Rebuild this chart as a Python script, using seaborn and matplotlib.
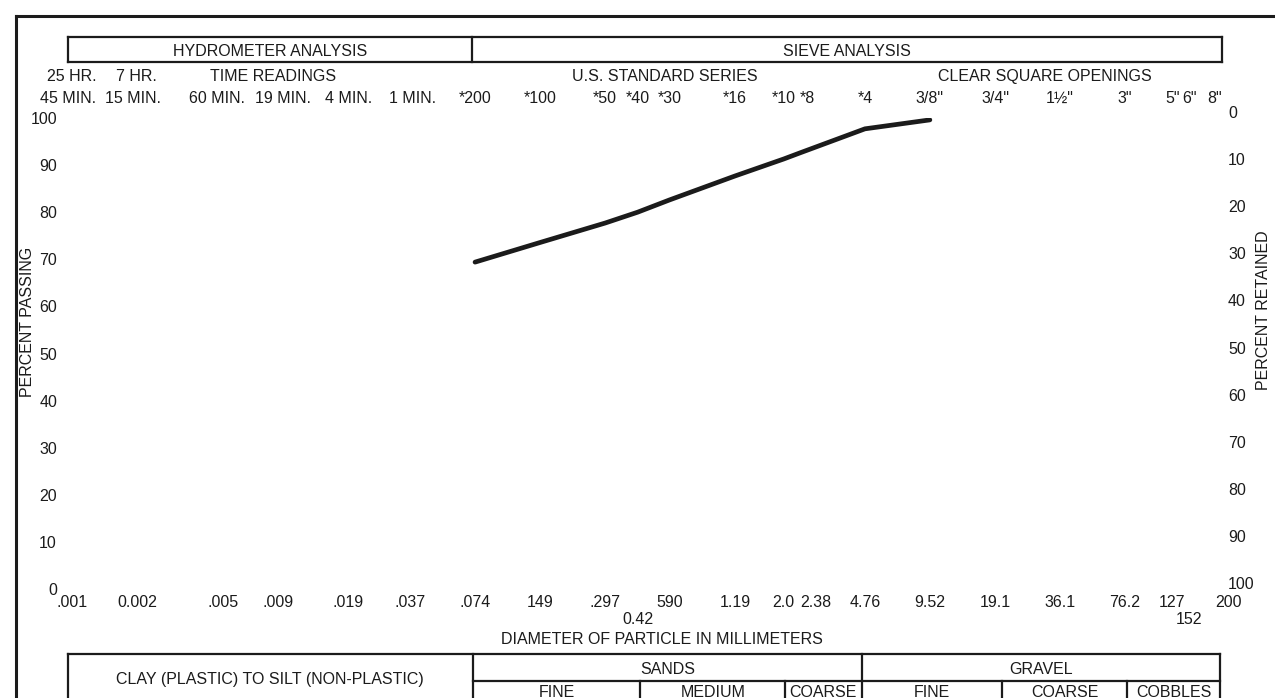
import matplotlib
matplotlib.use("Agg")
import matplotlib.pyplot as plt
from matplotlib import transforms, ticker
from matplotlib.lines import Line2D
import pandas as pd
import seaborn as sns

# ---- gradation data ----------------------------------------------------
sieve_mm = [0.074, 0.149, 0.297, 0.42, 0.59, 1.19, 2.0, 2.38, 4.76, 9.52]
percent_passing = [69.4, 73.6, 77.7, 80.0, 82.6, 87.7, 91.3, 92.6, 97.7, 99.6]

# ---- axis annotations --------------------------------------------------
diameter_ticks = [0.001, 0.002, 0.005, 0.009, 0.019, 0.037, 0.074, 0.149,
                  0.297, 0.59, 1.19, 2.0, 2.38, 4.76, 9.52, 19.1, 38.1,
                  76.2, 127, 200]
diameter_labels = [".001", "0.002", ".005", ".009", ".019", ".037", ".074",
                   "149", ".297", "590", "1.19", "2.0", "2.38", "4.76",
                   "9.52", "19.1", "36.1", "76.2", "127", "200"]
low_diameter_ticks = [0.42, 152]
low_diameter_labels = ["0.42", "152"]

sieve_ticks = [0.074, 0.149, 0.297, 0.42, 0.59, 1.19, 2.0, 2.38, 4.76,
               9.52, 19.1, 38.1, 76.2, 127, 152, 200]
sieve_labels = ["*200", "*100", "*50", "*40", "*30", "*16", "*10", "*8",
                "*4", '3/8"', '3/4"', '1½"', '3"', '5"', '6"', '8"']

time_ticks = [0.001, 0.002, 0.005, 0.009, 0.019, 0.037]
time_min_labels = ["45 MIN.", "15 MIN.", "60 MIN.", "19 MIN.", "4 MIN.",
                   "1 MIN."]
time_hr_ticks = [0.001, 0.002]
time_hr_labels = ["25 HR.", "7 HR."]

percent_ticks = list(range(0, 101, 10))

# ---- style -------------------------------------------------------------
W, H = 1275, 698
INK = "#1b1b1b"
FS = 11.5
FS_PX = FS * 100 / 72

sns.set_theme(style="white")
plt.rcParams["font.family"] = ["Liberation Sans", "DejaVu Sans"]
plt.rcParams["text.color"] = INK
plt.rcParams["xtick.color"] = INK
plt.rcParams["ytick.color"] = INK

fig = plt.figure(figsize=(W / 100, H / 100), dpi=100)
fig.patch.set_facecolor("white")


def fx(x):
    return x / W


def fy(y):
    return 1 - y / H


def hline(x0, x1, y, lw=1.6):
    fig.add_artist(Line2D([fx(x0), fx(x1)], [fy(y), fy(y)], color=INK,
                          lw=lw, transform=fig.transFigure,
                          solid_capstyle="projecting"))


def vline(x, y0, y1, lw=1.6):
    fig.add_artist(Line2D([fx(x), fx(x)], [fy(y0), fy(y1)], color=INK,
                          lw=lw, transform=fig.transFigure,
                          solid_capstyle="projecting"))


def label(x, yc, s, **kw):
    # place text so that its capital letters are centred on yc
    fig.text(fx(x), fy(yc + 0.36 * FS_PX), s, ha=kw.pop("ha", "center"),
             va="baseline", fontsize=kw.pop("fontsize", FS), color=INK, **kw)


# ---- main plotting area --------------------------------------------------
left, right, top, bottom = 72, 1215, 118, 589
ax = fig.add_axes([fx(left), fy(bottom), fx(right - left),
                   (bottom - top) / H])
df = pd.DataFrame({"mm": sieve_mm, "passing": percent_passing})
sns.lineplot(data=df, x="mm", y="passing", ax=ax, color=INK, linewidth=3.4,
             sort=True, legend=False, solid_capstyle="round")
ax.set_xscale("log")
ax.set_xlim(0.001, 200)
ax.set_ylim(0, 100)
ax.set_xlabel("")
ax.set_ylabel("")
ax.grid(False)
ax.set_facecolor("none")
for s in ax.spines.values():
    s.set_visible(False)

ax.xaxis.set_minor_locator(ticker.NullLocator())
ax.set_xticks(diameter_ticks, diameter_labels)
ax.set_yticks(percent_ticks, [str(v) for v in percent_ticks])
ax.tick_params(axis="x", length=0, pad=4.3, labelsize=FS)
ax.tick_params(axis="y", length=0, pad=10.8, labelsize=FS)
for t in ax.get_xticklabels():
    if t.get_text() in ("2.38", "200"):
        t.set_ha("left")

# x in data units, y in figure units
blend = transforms.blended_transform_factory(ax.transData, fig.transFigure)

# labels that sit below the main row
for v, s in zip(low_diameter_ticks, low_diameter_labels):
    ax.text(v, fy(618 + 0.36 * FS_PX), s, transform=blend, ha="center",
            va="baseline", fontsize=FS, color=INK)

# sieve designations along the top
ax_top = ax.twiny()
ax_top.set_xscale("log")
ax_top.set_xlim(ax.get_xlim())
ax_top.xaxis.set_minor_locator(ticker.NullLocator())
ax_top.set_xticks(sieve_ticks, sieve_labels)
ax_top.tick_params(axis="x", length=0, pad=8.6, labelsize=FS)
for t in ax_top.get_xticklabels():
    if t.get_text() == "*8":
        t.set_ha("left")
for s in ax_top.spines.values():
    s.set_visible(False)
ax_top.grid(False)

# hydrometer reading times, nudged apart where they crowd
time_nudge = [-4, -4, -6, 5, 1, 2]
for v, s, dx in zip(time_ticks, time_min_labels, time_nudge):
    tr = transforms.offset_copy(blend, fig=fig, x=dx, y=0, units="dots")
    ax.text(v, fy(97 + 0.36 * FS_PX), s, transform=tr, ha="center",
            va="baseline", fontsize=FS, color=INK)
for v, s in zip(time_hr_ticks, time_hr_labels):
    ax.text(v, fy(75 + 0.36 * FS_PX), s, transform=blend, ha="center",
            va="baseline", fontsize=FS, color=INK)

# percent retained on the right
ax_r = ax.twinx()
ax_r.set_ylim(100, 0)
ax_r.set_yticks(percent_ticks, [str(v) for v in percent_ticks])
ax_r.tick_params(axis="y", length=0, pad=9.4, labelsize=FS)
for t in ax_r.get_yticklabels():
    t.set_va("baseline")
for s in ax_r.spines.values():
    s.set_visible(False)
ax_r.grid(False)

# ---- form frame and headings --------------------------------------------
hline(16, W, 16, lw=2.2)
vline(16, 16, H, lw=2.2)

# header boxes
hline(68, 1222, 37)
hline(68, 1222, 62)
vline(68, 37, 62)
vline(472, 37, 62)
vline(1222, 37, 62)
label(270, 50, "HYDROMETER ANALYSIS")
label(847, 50, "SIEVE ANALYSIS")

label(273, 75, "TIME READINGS")
label(665, 75, "U.S. STANDARD SERIES")
label(1045, 75, "CLEAR SQUARE OPENINGS")

fig.text(fx(28), fy(322), "PERCENT PASSING", rotation=90, ha="center",
         va="center", fontsize=FS, color=INK)
fig.text(fx(1263), fy(310), "PERCENT RETAINED", rotation=90, ha="center",
         va="center", fontsize=FS, color=INK)

label(662, 638, "DIAMETER OF PARTICLE IN MILLIMETERS")

# soil classification table
hline(68, 1220, 654)
vline(68, 654, H + 2)
vline(473, 654, H + 2)
vline(862, 654, H + 2)
vline(1220, 654, H + 2)
hline(473, 1220, 681)
for xv in (640, 785, 1002, 1127):
    vline(xv, 681, H + 2)

label(270, 678, "CLAY (PLASTIC) TO SILT (NON-PLASTIC)")
label(668, 668, "SANDS")
label(1041, 668, "GRAVEL")
label(557, 691, "FINE")
label(713, 691, "MEDIUM")
label(823, 691, "COARSE")
label(932, 691, "FINE")
label(1065, 691, "COARSE")
label(1174, 691, "COBBLES")

fig.savefig("out.png", dpi=100, facecolor="white")
